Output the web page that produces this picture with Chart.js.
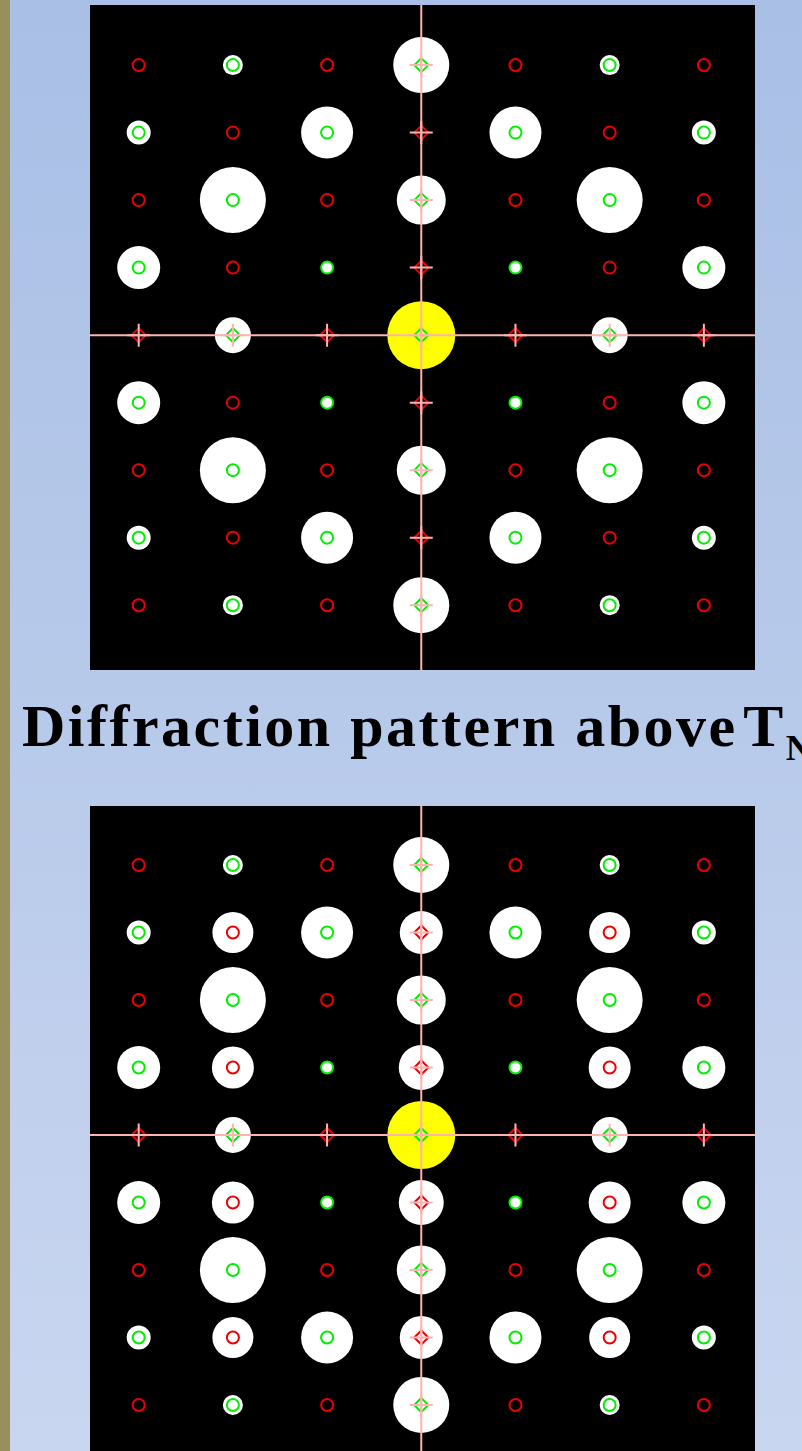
<!DOCTYPE html>
<html>
<head>
<meta charset="utf-8">
<script src="https://cdn.jsdelivr.net/npm/chart.js@4.4.1/dist/chart.umd.min.js"></script>
<style>
  html, body { margin: 0; padding: 0; }
  body {
    width: 802px; height: 1451px; overflow: hidden; position: relative;
    background: linear-gradient(to bottom, #a9bfe6 0%, #b8caea 50%, #c9d6f0 100%);
  }
  #stripe { position: absolute; left: 0; top: 0; width: 10px; height: 1451px; background: #998f5c; }
  .panel { position: absolute; left: 90px; width: 665px; height: 665px; background: #000; }
  #top { top: 5px; }
  #bottom { top: 806px; }
  #title {
    position: absolute; left: 22px; top: 688px; white-space: nowrap;
    font-family: "Liberation Serif", "Times New Roman", serif; font-weight: bold;
    font-size: 60px; letter-spacing: 2.5px; color: #000; line-height: 76px;
  }
  #title .t { margin-left: -12px; }
  #title sub { font-size: 36px; vertical-align: -14px; letter-spacing: 0; }
</style>
</head>
<body>
<div id="stripe"></div>
<div class="panel" id="top"><canvas id="topChart" width="665" height="665"></canvas></div>
<div id="title">Diffraction pattern above <span class="t">T<sub>N</sub></span></div>
<div class="panel" id="bottom"><canvas id="bottomChart" width="665" height="665"></canvas></div>
<script>
// reciprocal lattice indices: columns (h) and rows (k, top to bottom)
const H = [-3, -2, -1, 0, 1, 2, 3];
const K = [4, 3, 2, 1, 0, -1, -2, -3, -4];

// ring colour at each spot: g = nuclear (green), r = red
const RINGS = [
  'rgrgrgr',
  'grgrgrg',
  'rgrgrgr',
  'grgrgrg',
  'rgrgrgr',
  'grgrgrg',
  'rgrgrgr',
  'grgrgrg',
  'rgrgrgr',
];

// white spot size (intensity), 0 = no spot
const INTENSITY_ABOVE = [
  [0, 10, 0, 28, 0, 10, 0],
  [12, 0, 26, 0, 26, 0, 12],
  [0, 33, 0, 24.5, 0, 33, 0],
  [21.5, 0, 6, 0, 6, 0, 21.5],
  [0, 18, 0, 0, 0, 18, 0],
  [21.5, 0, 6, 0, 6, 0, 21.5],
  [0, 33, 0, 24.5, 0, 33, 0],
  [12, 0, 26, 0, 26, 0, 12],
  [0, 10, 0, 28, 0, 10, 0],
];

const INTENSITY_BELOW = [
  [0, 10, 0, 28, 0, 10, 0],
  [12, 20.5, 26, 21.5, 26, 20.5, 12],
  [0, 33, 0, 24.5, 0, 33, 0],
  [21.5, 21, 6, 22.5, 6, 21, 21.5],
  [0, 18, 0, 0, 0, 18, 0],
  [21.5, 21, 6, 22.5, 6, 21, 21.5],
  [0, 33, 0, 24.5, 0, 33, 0],
  [12, 20.5, 26, 21.5, 26, 20.5, 12],
  [0, 10, 0, 28, 0, 10, 0],
];

const BEAM = 34; // direct beam at the origin

// visible range of each panel
const X_RANGE = [-3.517, 3.543];
const Y_RANGE_TOP = [-4.96, 4.89];
const Y_RANGE_BOTTOM = [-4.978, 4.874];

const PINK = '#ffb2b2';
const GREEN = '#00ee00';
const RED = '#ee0000';

const onAxis = (p) => p.x === 0 || p.y === 0;

function buildDatasets(intensity, yRange) {
  const halo = [], green = [], red = [], cross = [];
  K.forEach((k, r) => {
    H.forEach((h, c) => {
      const p = { x: h, y: k };
      if (intensity[r][c] > 0) halo.push({ x: h, y: k, r: intensity[r][c] });
      if (RINGS[r][c] === 'g') green.push(p); else red.push(p);
      if (h === 0 || k === 0) cross.push(p);
    });
  });

  const ring = (data, color, order) => ({
    type: 'scatter',
    data,
    order,
    borderColor: color,
    backgroundColor: 'rgba(0,0,0,0)',
    borderWidth: 2,
    pointStyle: (ctx) => (onAxis(ctx.raw) ? 'rectRot' : 'circle'),
    pointRadius: (ctx) => (onAxis(ctx.raw) ? 7 : 6),
  });

  return [
    { type: 'bubble', data: halo, order: 7, backgroundColor: '#ffffff', borderWidth: 0 },
    { type: 'bubble', data: [{ x: 0, y: 0, r: BEAM }], order: 6, backgroundColor: '#ffff00', borderWidth: 0 },
    ring(green, GREEN, 5),
    ring(red, RED, 4),
    {
      type: 'line', order: 3, data: [{ x: X_RANGE[0], y: 0 }, { x: X_RANGE[1], y: 0 }],
      borderColor: PINK, borderWidth: 2, pointRadius: 0, fill: false,
    },
    {
      type: 'line', order: 2, data: [{ x: 0, y: yRange[0] }, { x: 0, y: yRange[1] }],
      borderColor: PINK, borderWidth: 2, pointRadius: 0, fill: false,
    },
    {
      type: 'scatter', order: 1, data: cross, pointStyle: 'cross', pointRadius: 11.5,
      borderColor: PINK, borderWidth: 2,
    },
  ];
}

function makeChart(id, intensity, yRange) {
  return new Chart(document.getElementById(id), {
    type: 'scatter',
    data: { datasets: buildDatasets(intensity, yRange) },
    options: {
      responsive: false,
      animation: false,
      events: [],
      layout: { padding: 0, autoPadding: false },
      plugins: { legend: { display: false }, tooltip: { enabled: false } },
      scales: {
        x: { type: 'linear', min: X_RANGE[0], max: X_RANGE[1], display: false },
        y: { type: 'linear', min: yRange[0], max: yRange[1], display: false },
      },
    },
  });
}

makeChart('topChart', INTENSITY_ABOVE, Y_RANGE_TOP);
makeChart('bottomChart', INTENSITY_BELOW, Y_RANGE_BOTTOM);
</script>
</body>
</html>
